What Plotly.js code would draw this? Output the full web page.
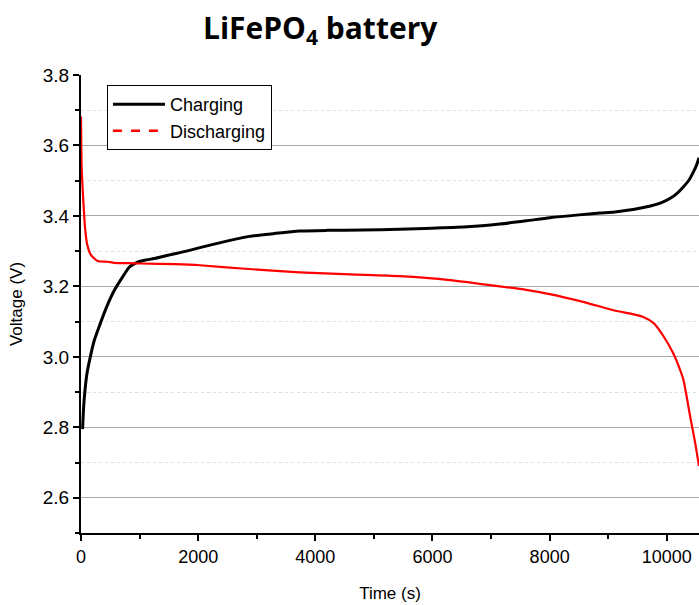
<!DOCTYPE html>
<html>
<head>
<meta charset="utf-8">
<script src="https://cdn.plot.ly/plotly-3.0.1.min.js"></script>
<style>html,body{margin:0;padding:0;background:#fff;}#chart{width:699px;height:605px;}</style>
</head>
<body>
<div id="chart"></div>
<script>
// Charging curve (time in s, voltage in V)
const chargeTime = [27, 45, 68, 102, 159, 227, 330, 438, 570, 711, 826, 940, 1082, 1253, 1500, 1800, 2030, 2400, 2880, 3300, 3730, 4200, 4800, 5440, 6000, 6600, 7150, 7600, 8000, 8500, 8860, 9145, 9450, 9720, 9900, 10060, 10180, 10285, 10380, 10455, 10510, 10550];
const chargeVolt = [2.795, 2.858, 2.905, 2.953, 3.0, 3.047, 3.095, 3.142, 3.189, 3.227, 3.255, 3.267, 3.274, 3.279, 3.289, 3.30, 3.31, 3.325, 3.342, 3.35, 3.357, 3.359, 3.36, 3.362, 3.365, 3.369, 3.377, 3.386, 3.395, 3.403, 3.408, 3.412, 3.419, 3.428, 3.437, 3.45, 3.465, 3.483, 3.502, 3.525, 3.545, 3.565];

// Discharging curve
const dischargeTime = [0, 11, 39, 68, 102, 171, 285, 450, 570, 800, 1025, 1600, 2030, 2800, 3730, 4600, 5440, 6300, 7150, 7600, 8000, 8570, 9145, 9400, 9600, 9780, 9950, 10110, 10200, 10285, 10400, 10480, 10550];
const dischargeVolt = [3.682, 3.54, 3.445, 3.369, 3.322, 3.289, 3.272, 3.27, 3.267, 3.266, 3.265, 3.263, 3.26, 3.25, 3.24, 3.234, 3.229, 3.218, 3.20, 3.19, 3.178, 3.156, 3.13, 3.122, 3.113, 3.095, 3.057, 3.01, 2.975, 2.934, 2.83, 2.76, 2.69];

const seriesNames = ['Charging', 'Discharging'];
const legendStub = [null];

const traces = [
  {x: chargeTime, y: chargeVolt, name: seriesNames[0], mode: 'lines', type: 'scatter',
   line: {color: '#000000', width: 3, shape: 'spline', smoothing: 0.6}},
  {x: dischargeTime, y: dischargeVolt, name: seriesNames[1], mode: 'lines', type: 'scatter',
   line: {color: '#ff0000', width: 2.2, shape: 'spline', smoothing: 0.6}, showlegend: false},
  {x: legendStub, y: legendStub, name: seriesNames[1], mode: 'lines', type: 'scatter',
   line: {color: '#ff0000', width: 2.5, dash: 'dash'}}
];

const layout = {
  width: 699, height: 605,
  margin: {l: 81, r: 0, t: 75, b: 72},
  paper_bgcolor: '#ffffff', plot_bgcolor: '#ffffff',
  font: {family: 'Liberation Sans, Arial, sans-serif', size: 17, color: '#000'},
  title: {text: '<b>LiFePO<sub>4</sub> battery</b>', x: 0.458, xanchor: 'center', y: 0.953, yanchor: 'middle',
          font: {family: 'Open Sans, sans-serif', size: 30, color: '#000'}},
  showlegend: true,
  legend: {x: 0.042, y: 0.978, xanchor: 'left', yanchor: 'top', bordercolor: '#000', borderwidth: 1,
           bgcolor: '#ffffff', font: {size: 18, family: 'Liberation Sans, Arial, sans-serif'},
           tracegroupgap: 0, itemwidth: 52},
  xaxis: {
    range: [0, 10550], dtick: 2000, tick0: 0, tickformat: 'd', showgrid: false, zeroline: false,
    showline: true, linecolor: '#000', linewidth: 2, ticks: 'outside', ticklen: 6, tickwidth: 2, tickcolor: '#000',
    minor: {dtick: 1000, ticks: 'outside', ticklen: 4, tickwidth: 2, tickcolor: '#000', showgrid: false},
    tickfont: {size: 18}, title: {text: 'Time (s)', font: {size: 17}, standoff: 22}
  },
  yaxis: {
    range: [2.5, 3.8], dtick: 0.2, tick0: 2.6, tickformat: '.1f', zeroline: false,
    showline: true, linecolor: '#000', linewidth: 2, ticks: 'outside', ticklen: 6, tickwidth: 2, tickcolor: '#000',
    showgrid: true, gridcolor: '#a8a8a8', gridwidth: 1,
    minor: {dtick: 0.1, tick0: 2.5, ticks: 'outside', ticklen: 4, tickwidth: 2, tickcolor: '#000',
            showgrid: true, gridcolor: '#dddddd', griddash: 'dot', gridwidth: 1},
    tickfont: {size: 19}, title: {text: 'Voltage (V)', font: {size: 17}, standoff: 16}
  }
};

Plotly.newPlot('chart', traces, layout, {displayModeBar: false, staticPlot: true});
</script>
</body>
</html>
